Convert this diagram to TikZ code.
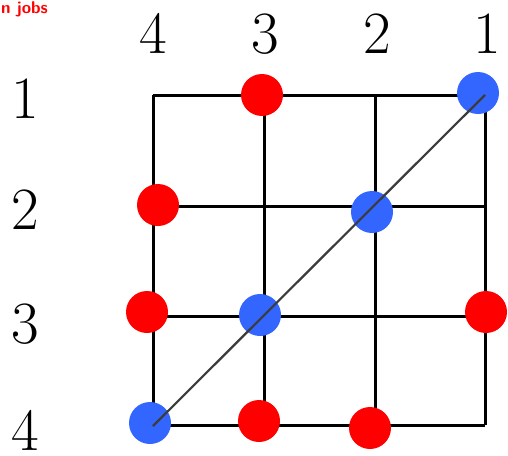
\documentclass[tikz,border=0pt]{standalone}
\begin{document}
\begin{tikzpicture}[x=1pt,y=-1pt,
  lbl/.style={inner sep=0pt,anchor=base,font=\fontsize{60}{60}\selectfont},
  gridline/.style={line width=3pt,black},
  reddot/.style={circle,fill=red,minimum size=42pt,inner sep=0pt},
  bluedot/.style={circle,fill={rgb,255:red,51;green,102;blue,255},minimum size=42pt,inner sep=0pt},
  diag/.style={line width=2.2pt,draw={rgb,255:red,60;green,60;blue,60}}]
\useasboundingbox (0,0) rectangle (508,455);
% red title
\node[anchor=base west,inner sep=0pt,text=red,font=\sffamily\bfseries\fontsize{17}{17}\selectfont] (title) at (1,13) {n jobs};
% grid
\foreach \x in {153,264,375,485} \draw[gridline] (\x,95) -- (\x,425);
\foreach \y in {95,206,316,425} \draw[gridline] (153,\y) -- (485,\y);
% labels
\node[lbl] (c4) at (153,53) {4};
\node[lbl] (c3) at (265,53) {3};
\node[lbl] (c2) at (377,53) {2};
\node[lbl] (c1) at (487,53) {1};
\node[lbl] (r1) at (25,118) {1};
\node[lbl] (r2) at (25,229) {2};
\node[lbl] (r3) at (25,343) {3};
\node[lbl] (r4) at (25,450) {4};
% dots
\node[reddot] (a13) at (262,95) {};
\node[bluedot] (a11) at (478,93) {};
\node[reddot] (a24) at (158,205) {};
\node[bluedot] (a22) at (372,212) {};
\node[reddot] (a34) at (147,312) {};
\node[bluedot] (a33) at (260,315) {};
\node[reddot] (a31) at (486,312) {};
\node[bluedot] (a44) at (150,423) {};
\node[reddot] (a43) at (259,421) {};
\node[reddot] (a42) at (370,428) {};
\coordinate (d0) at (153,426);
\coordinate (d1) at (485,95);
\draw[diag] (d0) -- (d1);
\end{tikzpicture}
\end{document}
